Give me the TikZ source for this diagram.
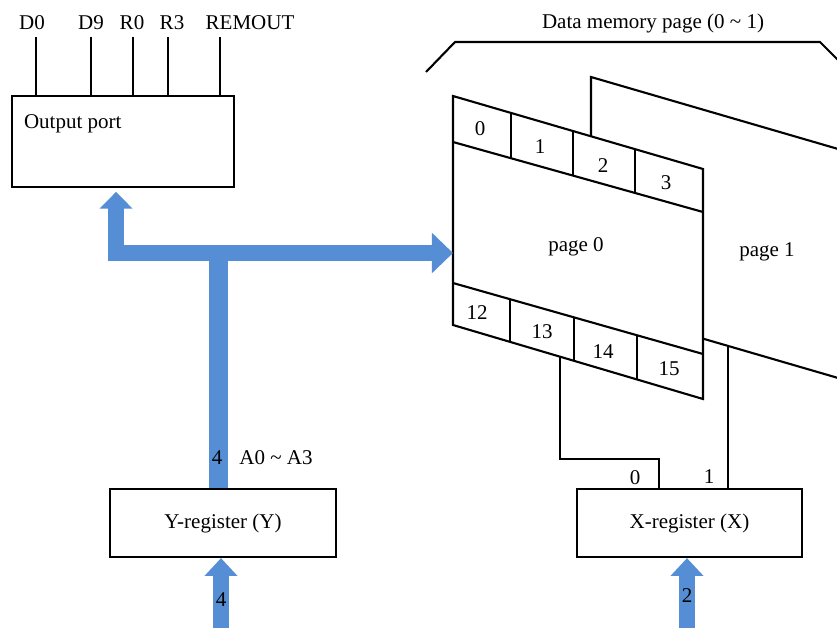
\documentclass[tikz,border=0pt]{standalone}
\usepackage{fontspec}
\setmainfont{Liberation Serif}
\usetikzlibrary{arrows.meta,positioning,calc}
\definecolor{busblue}{RGB}{85,142,213}

\begin{document}
\begin{tikzpicture}[x=0.476pt, y=-0.476pt, line width=1pt,
    regbox/.style={draw, rectangle, minimum width=107.6pt, minimum height=32.4pt},
    bus/.style={draw=busblue, line width=7.6pt},
    bustip/.style={-{Triangle[width=15.2pt, length=8.5pt]}},
    pagesheet/.style={draw, fill=white, line join=miter}]

    \useasboundingbox (0,0) rectangle (837,628);
    \clip (0,0) rectangle (837,628);

    % Nodes
    \node [regbox, minimum width=105.7pt, minimum height=43.3pt] (outport) at (123,141.5) {};
    \node [anchor=west, inner sep=0pt] (outlbl) at (23,124) {Output port};
    \node [regbox] (yreg) at (223,523) {Y-register (Y)};
    \node [regbox, minimum width=107.1pt] (xreg) at (689.5,523) {X-register (X)};

    % Output pins
    \foreach \x/\lx/\t in {36/32/D0, 91/91/D9, 133/132/R0, 168/172/R3, 220/250/REMOUT} {
        \node (pin\t) at (\lx,23) {\t};
        \draw (\x,37) -- (\x,37 |- outport.north);
    }

    % Data memory
    \node (dmtitle) at (653,23) {Data memory page (0 \textasciitilde{} 1)};
    \draw (426,72) -- (455,42) -- (820,42) -- (850,72);

    \draw [pagesheet] (591,77) -- (845,151) -- (845,380) -- (591,306) -- cycle;
    \node (p1lbl) at (767,252) {page 1};

    \draw [pagesheet] (453,96) -- (703,169) -- (703,399) -- (453,325) -- cycle;
    \draw (453,142) -- (703,212);
    \draw (453,283) -- (703,354);
    \foreach \x in {511,573,635}
        \draw (\x,{96+0.292*(\x-453)}) -- (\x,{142+0.28*(\x-453)});
    \foreach \x in {510,574,637}
        \draw (\x,{283+0.284*(\x-453)}) -- (\x,{325+0.296*(\x-453)});
    \foreach \t/\x/\y in {0/480/129, 1/540/147, 2/603/166, 3/666/183,
                          12/477/313, 13/542/332, 14/603/352, 15/669/369}
        \node (cell\t) at (\x,\y) {\t};
    \node (p0lbl) at (576,247) {page 0};

    \coordinate (p0in) at (453,253);
    \coordinate (trunk) at (218.5,253);
    \coordinate (p0bot) at (560,{325+0.296*107});
    \coordinate (p1bot) at (728,{306+0.292*137});
    \coordinate (bit0) at (659,459);
    \coordinate (yin) at (221,628);
    \coordinate (xin) at (687,628);

    % Arrows
    \draw [bus, line width=9pt] (yreg.north -| trunk) -- (trunk);
    \draw [bus, {Triangle[width=15.2pt, length=8pt]}-{Triangle[width=18.6pt, length=10pt]}]
        ([xshift=-3.3pt, yshift=-1.8pt]outport.south) |- (p0in);
    \draw [bus, bustip] (yin) -- (yin |- yreg.south) node [pos=0.41] {4};
    \draw [bus, bustip] (xin) -- (xin |- xreg.south) node [pos=0.46] {2};

    \node (wA) at (217,458) {4};
    \node (addr) at (276,458) {A0 \textasciitilde{} A3};

    \draw (p0bot) |- (bit0) -- (bit0 |- xreg.north);
    \draw (p1bot) -- (p1bot |- xreg.north);
    \node (b0) at (635,478) {0};
    \node (b1) at (709,477) {1};

\end{tikzpicture}
\end{document}
